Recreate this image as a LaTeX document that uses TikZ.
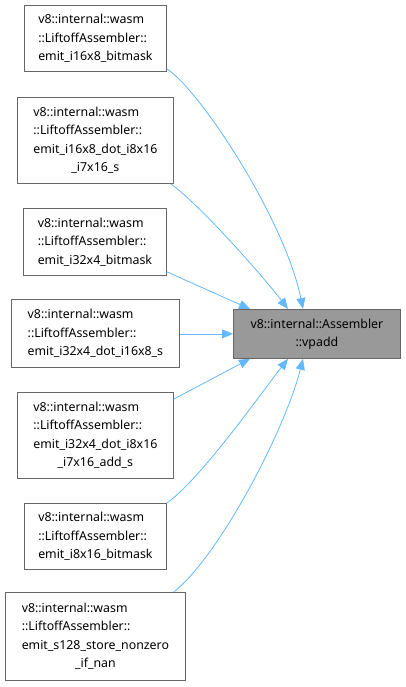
\documentclass[tikz,border=0pt]{standalone}
\usepackage{fontspec}
\setmainfont{Noto Sans}
\usetikzlibrary{arrows.meta,calc}
\definecolor{edgeblue}{HTML}{63B8FF}
\definecolor{boxborder}{HTML}{666666}
\definecolor{targetfill}{HTML}{999999}
\newcommand{\lbl}[1]{{\fontsize{12.4}{18.5}\selectfont\begin{tabular}{@{}l@{}}#1\end{tabular}}}
\newcommand{\cln}[1]{\multicolumn{1}{@{}c@{}}{#1}}
\begin{document}
\begin{tikzpicture}[x=1bp,y=-1bp,
  srcbox/.style={draw=boxborder,fill=white,line width=0.8bp,inner sep=0pt,anchor=north west},
  tgtbox/.style={draw=boxborder,fill=targetfill,line width=0.8bp,inner sep=0pt,anchor=north west},
  edge/.style={draw=edgeblue,line width=0.8bp,-{Triangle[length=11bp,width=9bp]}}]
\useasboundingbox (0,0) rectangle (405,687);
\node[srcbox,minimum width=142bp,minimum height=66bp] (a) at (24,5) {\lbl{v8::internal::wasm\\::LiftoffAssembler::\\emit\_i16x8\_bitmask}};
\node[srcbox,minimum width=156bp,minimum height=86bp] (b) at (17,97) {\lbl{v8::internal::wasm\\::LiftoffAssembler::\\emit\_i16x8\_dot\_i8x16\\\cln{\_i7x16\_s}}};
\node[srcbox,minimum width=143bp,minimum height=67bp] (c) at (23,208) {\lbl{v8::internal::wasm\\::LiftoffAssembler::\\emit\_i32x4\_bitmask}};
\node[srcbox,minimum width=168bp,minimum height=68bp] (d) at (11,299) {\lbl{v8::internal::wasm\\::LiftoffAssembler::\\emit\_i32x4\_dot\_i16x8\_s}};
\node[tgtbox,minimum width=167bp,minimum height=49bp] (t) at (233,309) {\lbl{\cln{v8::internal::Assembler}\\\cln{::vpadd}}};
\node[srcbox,minimum width=156bp,minimum height=86bp] (e) at (17,392) {\lbl{v8::internal::wasm\\::LiftoffAssembler::\\emit\_i32x4\_dot\_i8x16\\\cln{\_i7x16\_add\_s}}};
\node[srcbox,minimum width=142bp,minimum height=66bp] (f) at (24,503) {\lbl{v8::internal::wasm\\::LiftoffAssembler::\\emit\_i8x16\_bitmask}};
\node[srcbox,minimum width=180bp,minimum height=88bp] (g) at (5,592) {\lbl{v8::internal::wasm\\::LiftoffAssembler::\\emit\_s128\_store\_nonzero\\\cln{\_if\_nan}}};
% arrow end points on target
\coordinate (t1) at ($(t.north west)+(70,0)$);
\coordinate (t2) at ($(t.north west)+(55,0)$);
\coordinate (t3) at ($(t.north west)+(17,0)$);
\coordinate (t5) at ($(t.south west)+(17,0)$);
\coordinate (t6) at ($(t.south west)+(55,0)$);
\coordinate (t7) at ($(t.south west)+(70,0)$);
\draw[edge] ($(a.south east)+(0,-3)$) .. controls (200,90) and (285,220) .. (t1);
\draw[edge] ($(b.south east)+(-3,0)$) .. controls (200,205) and (262,275) .. (t2);
\draw[edge] ($(c.south east)+(0,-4)$) -- (t3);
\draw[edge] (d.east |- t.west) -- (t.west);
\draw[edge] ($(e.north east)+(0,7)$) -- (t5);
\draw[edge] ($(f.north east)+(0,0)$) .. controls (200,480) and (262,392) .. (t6);
\draw[edge] ($(g.north east)+(-12,0)$) .. controls (220,555) and (285,430) .. (t7);
\end{tikzpicture}
\end{document}
